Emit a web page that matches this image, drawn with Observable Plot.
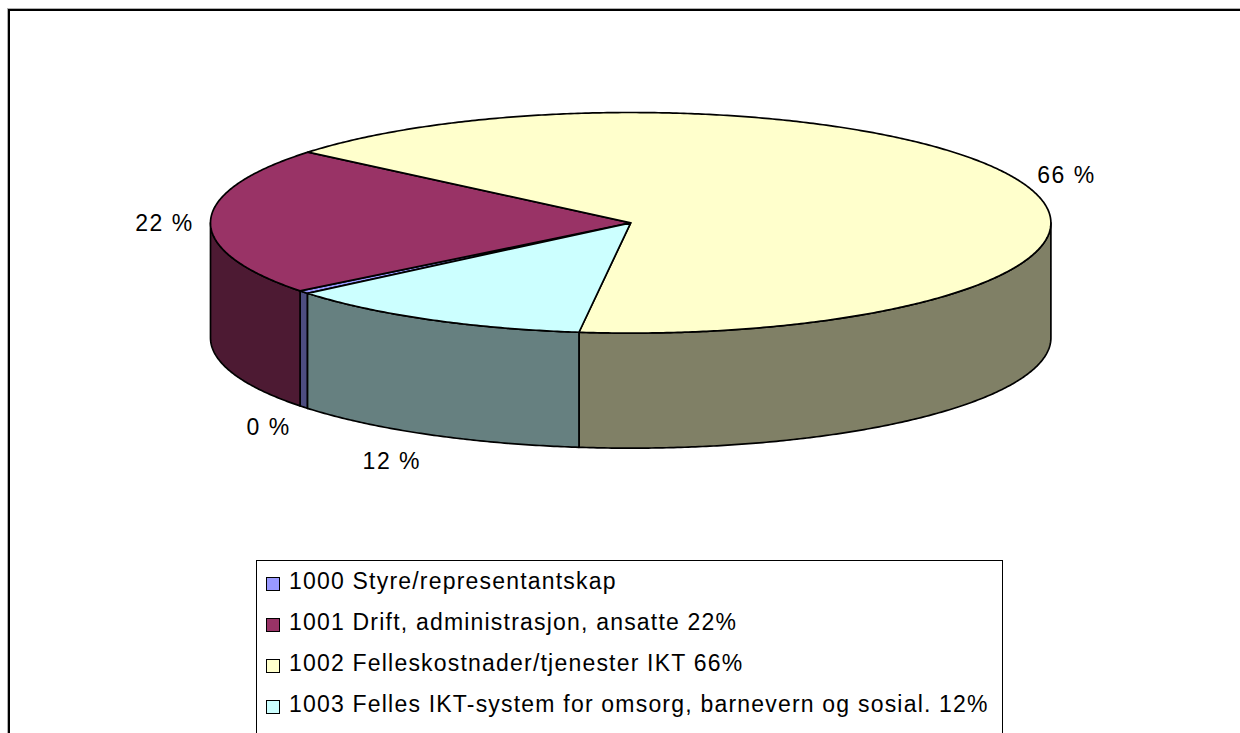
<!DOCTYPE html>
<html>
<head>
<meta charset="utf-8">
<script src="https://cdn.jsdelivr.net/npm/d3@7"></script>
<script src="https://cdn.jsdelivr.net/npm/@observablehq/plot@0.6"></script>
<style>
  html, body { margin: 0; padding: 0; background: #fff; }
  #wrap { position: relative; width: 1240px; height: 733px; overflow: hidden;
          font-family: "Liberation Sans", Arial, sans-serif; }
  #chart { position: absolute; left: 0; top: 0; }
  #frame { position: absolute; left: 8px; top: 9px; width: 1400px; height: 900px;
           border-top: 2px solid #000; border-left: 2px solid #000;
           box-shadow: -1px -1px 0 #b0b0b0; }
  #legend { position: absolute; left: 256px; top: 560px; width: 745px; height: 400px;
            border: 1px solid #000; background: #fff; }
  .sw { position: absolute; width: 12px; height: 12px; border: 1px solid #000; }
  .lt { position: absolute; font-size: 23px; letter-spacing: 1.2px; white-space: nowrap;
        line-height: normal; color: #000; }
</style>
</head>
<body>
<div id="wrap">
  <div id="chart"></div>
  <div id="frame"></div>
  <div id="legend"></div>
</div>
<script>
// ---- data ----
const codes = ["1000", "1001", "1002", "1003"];
const legendLabels = [
  "1000 Styre/representantskap",
  "1001 Drift, administrasjon, ansatte 22%",
  "1002 Felleskostnader/tjenester IKT 66%",
  "1003 Felles IKT-system for omsorg, barnevern og sosial. 12%"
];
const shares = [0.45, 21.65, 65.9, 12.0];           // percent of total
const topColors  = ["#9999FF", "#993366", "#FFFFCC", "#CCFFFF"];
const sideColors = ["#4D4D80", "#4D1A33", "#808066", "#668080"];

// ---- geometry (unit circle, angles clockwise from 12 o'clock) ----
const firstSliceAngle = 230.27;
const depth = 1.043;                 // pie thickness in vertical-radius units
const total = d3.sum(shares);
const rad = d => d * Math.PI / 180;
const pt = deg => [Math.sin(rad(deg)), -Math.cos(rad(deg))];
function arcPts(a0, a1) {
  const n = Math.max(2, Math.ceil((a1 - a0) / 0.5));
  return d3.range(n + 1).map(k => pt(a0 + (a1 - a0) * k / n));
}
let acc = firstSliceAngle;
const slices = shares.map((v, i) => {
  const a0 = acc, a1 = acc + v / total * 360;
  acc = a1;
  return {i, v, a0, a1, mid: (a0 + a1) / 2};
});

const sideRows = [], topRows = [];
slices.forEach(s => {
  // front-facing part of the outer wall: angles in [90,270] (+360k)
  [[90, 270], [450, 630]].forEach(([f0, f1], k) => {
    const b0 = Math.max(s.a0, f0), b1 = Math.min(s.a1, f1);
    if (b1 > b0) {
      const top = arcPts(b0, b1);
      const bottom = top.slice().reverse().map(([x, y]) => [x, y + depth]);
      const ring = [...top, ...bottom, top[0]];
      ring.forEach(([x, y]) => sideRows.push({id: `side-${s.i}-${k}`, x, y, fill: sideColors[s.i]}));
    }
  });
  const ring = [[0, 0], ...arcPts(s.a0, s.a1), [0, 0]];
  ring.forEach(([x, y]) => topRows.push({id: `top-${s.i}`, x, y, fill: topColors[s.i]}));
});

const labelRows = slices.map(s => {
  const [ux, uy] = pt(s.mid);
  const front = uy > 0;
  return {
    x: ux * 1.04,
    y: uy * 1.25 + (front ? depth : 0) + 0.03,
    text: `${Math.round(s.v / total * 100)} %`,
    right: ux > 0
  };
});

const plot = Plot.plot({
  width: 1240,
  height: 733,
  margin: 0,
  x: {domain: [-1, 1], range: [210.0, 1050.4], axis: null},
  y: {domain: [-1, 1], range: [112.0, 332.6], axis: null},
  color: {type: "identity"},
  style: {fontFamily: '"Liberation Sans", Arial, sans-serif', letterSpacing: "1.5px", background: "transparent"},
  marks: [
    Plot.line(sideRows, {x: "x", y: "y", z: "id", fill: "fill", stroke: "#000",
      strokeWidth: 1.7, strokeLinejoin: "round", curve: "linear"}),
    Plot.line(topRows, {x: "x", y: "y", z: "id", fill: "fill", stroke: "#000",
      strokeWidth: 1.7, strokeLinejoin: "round", curve: "linear"}),
    Plot.text(labelRows.filter(d => d.right), {x: "x", y: "y", text: "text",
      textAnchor: "start", lineAnchor: "middle", fontSize: 23, fill: "#000"}),
    Plot.text(labelRows.filter(d => !d.right), {x: "x", y: "y", text: "text",
      textAnchor: "end", lineAnchor: "middle", fontSize: 23, fill: "#000"})
  ]
});
document.getElementById("chart").appendChild(plot);

// ---- legend ----
const wrap = document.getElementById("wrap");
legendLabels.forEach((lab, i) => {
  const sw = document.createElement("div");
  sw.className = "sw";
  sw.style.left = "266px";
  sw.style.top = (577 + 41 * i) + "px";
  sw.style.background = topColors[i];
  wrap.appendChild(sw);
  const t = document.createElement("div");
  t.className = "lt";
  t.style.left = "289px";
  t.style.top = (568 + 41 * i) + "px";
  t.textContent = lab;
  wrap.appendChild(t);
});
</script>
</body>
</html>
